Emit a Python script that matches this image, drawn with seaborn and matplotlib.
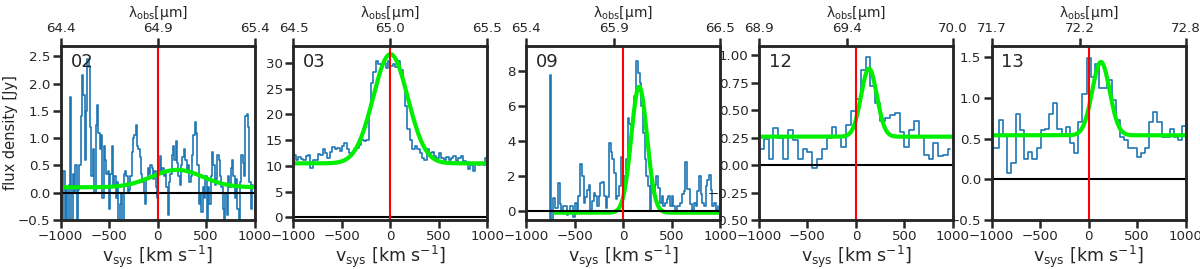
import numpy as np
import seaborn as sns
import matplotlib
matplotlib.use("Agg")
import matplotlib.pyplot as plt

sns.set_style("ticks")
plt.rcParams['font.family'] = ['DejaVu Sans']
plt.rcParams['font.size'] = 10

# panel ids
names = ["02", "03", "09", "12", "13"]

# observed wavelength axis (top): left, middle tick, right  [micron]
lam_lo = [64.4, 64.5, 65.4, 68.9, 71.7]
lam_mid = [64.9, 65.0, 65.9, 69.4, 72.2]
lam_hi = [65.4, 65.5, 66.5, 70.0, 72.8]

# channel grids: first channel centre and channel width [km/s]
v_first = [-993.1, -987.5, -785.0, -975.0, -989.0]
dv = [13.8, 25.0, 17.5, 50.0, 43.0]

# spectra [Jy]
flux_02 = [0.3, -0.6, 0.4, -0.6, 0.1, -0.6, 0.15, 1.75, -0.6, 0.35,
           0.0, 0.5, -0.6, 0.05, 0.5, 1.4, 2.15, 1.8, 0.6, 1.5,
           2.45, 2.3, 1.2, 0.3, 0.8, 0.0, 1.25, 1.6, 1.1, 0.8,
           1.05, -0.1, 0.85, 0.6, 0.35, 0.4, -0.3, 0.35, 0.85, 0.15,
           0.3, -0.1, 0.2, -0.5, -0.2, 0.0, -0.6, 0.35, 0.4, 0.3,
           0.0, 0.05, 0.3, 0.75, 1.0, 1.05, 1.25, 0.85, 0.8, 0.65,
           0.35, 0.2, 0.0, -0.2, 0.25, 0.45, 0.35, 0.5, 0.45, 0.25,
           0.4, 0.1, -0.1,
           0.4, 0.67, 0.35, 0.45, 0.3, 0.4, 0.1, -0.4, 0.2, 0.35,
           0.7, 0.85, 0.6, 0.95, 0.55, 0.3, 0.15, 0.5, 0.65, 0.8,
           0.6, 0.4, 0.5, 0.2, 0.3, 0.7, 1.05, 1.3, 1.1, 0.5,
           -0.2, 0.0, -0.35, 0.1, -0.1, 0.3, -0.5, 0.1, -0.2, 0.3,
           0.75, 0.5, 0.15, 0.25, 0.7, 0.6, 0.3, 0.1, -0.3, -0.5,
           0.0, -0.4, 0.3, 0.1, 0.45, 0.6, 0.3, -0.1, 0.25, -0.3,
           -0.5, 0.2, 0.7, 0.55, 0.3, 1.4, 1.45, 1.2, 0.2, -0.3,
           0.15, 0.1]
flux_03 = [12.2, 11.2, 11.7, 11.4, 11.2, 12.0, 12.2, 9.6, 11.2, 11.1,
           12.4, 12.2, 13.2, 12.5, 11.6, 12.7, 13.7, 13.3, 13.5, 12.9,
           13.8, 14.4, 13.2, 12.5, 12.5, 13.2, 13.5, 14.0, 15.1, 14.8,
           15.1, 20.9, 26.1, 28.3, 30.3, 29.7, 29.5, 30.0, 29.0, 30.3,
           29.4, 29.7, 29.2, 30.3, 28.7, 26.1, 21.6, 17.1, 15.1, 13.3,
           13.8, 13.2, 12.5, 11.6, 11.2, 13.3, 12.5, 12.8, 11.9, 11.6,
           12.5, 11.6, 11.2, 11.7, 11.2, 11.6, 11.9, 10.9, 11.6, 11.9,
           11.0, 10.7, 9.4, 10.2, 9.0, 10.6, 10.1, 10.5, 10.1, 11.6]
flux_09 = [-0.8, -0.8, 7.8, -0.6, 0.78, 0.2, 0.2, 1.6, 0.4, -0.1,
           0.3, 0.3, -0.2, -0.1, 0.3, 0.3, -0.3, 0.5, -0.1, 0.9,
           2.7, 2.0, 0.5, 0.8, 1.2, 1.5, 0.1, 0.6, 1.07, 0.9,
           0.3, 0.9, 1.6, 1.7, 0.9, 0.2, 0.8, 3.9, 3.4, 3.0,
           2.2, 0.7, 0.9, 1.45, 3.1, 1.2, 2.0, 3.0, 5.35, 5.0,
           4.9, 5.5, 6.6, 8.6, 7.9, 7.35, 6.0, 4.5, 3.0, 2.0,
           1.45, 0.1, 1.8, 1.07, 1.5, 2.0, 1.35, 0.5, 0.9, 0.3,
           0.5, 0.7, 0.9, 0.3, 0.9, 0.3, -0.1, 0.3, 0.3, 0.5,
           1.0, 1.15, 2.8, 1.25, 1.25, 0.4, 0.1, 0.5, 0.3, 1.15,
           2.0, 1.0, 0.5, 0.3, 1.45, 1.8, 2.1, 1.2, 0.3, 0.5,
           0.1, 0.3]
flux_12 = [0.15, 0.24, 0.06, 0.34, 0.25, 0.06, 0.32, 0.23, 0.06, 0.15,
           0.12, -0.03, 0.06, 0.15, 0.25, 0.35, 0.26, 0.17, 0.37, 0.49,
           0.60, 0.87, 0.99, 0.72, 0.57, 0.40, 0.43, 0.46, 0.48, 0.30,
           0.17, 0.32, 0.40, 0.26, 0.09, 0.06, 0.20, 0.08, 0.09, 0.15]
flux_13 = [0.38, 0.38, 0.73, 0.54, 0.08, 0.20, 0.80, 0.61, 0.25, 0.33,
           0.25, 0.38, 0.61, 0.62, 0.80, 0.94, 0.62, 0.54, 0.64, 0.44,
           0.32, 0.70, 1.05, 1.49, 1.25, 1.42, 1.12, 1.12, 1.22, 0.97,
           0.73, 0.52, 0.48, 0.38, 0.38, 0.27, 0.32, 0.38, 0.70, 0.82,
           0.70, 0.52, 0.52, 0.62, 0.52, 0.48, 0.65]
fluxes = [flux_02, flux_03, flux_09, flux_12, flux_13]

# gaussian line fits: continuum, amplitude, centre, sigma, start of fit range
fit_cont = [0.10, 10.5, -0.08, 0.26, 0.54]
fit_amp = [0.32, 21.2, 7.2, 0.62, 0.90]
fit_cen = [200.0, 0.0, 165.0, 135.0, 127.0]
fit_sig = [263.0, 178.0, 81.0, 81.0, 90.0]
fit_lo = [-1000, -1000, -707, -1000, -1000]

# y tick spacing per panel
y_step = [0.5, 5, 2, 0.25, 0.5]

fig, axes = plt.subplots(1, 5, figsize=(12, 2.69), dpi=100)
fig.subplots_adjust(left=0.0506, right=0.988, bottom=0.182, top=0.830, wspace=0.2)

for i, ax in enumerate(axes):
    f = np.array(fluxes[i])
    v = v_first[i] + dv[i] * np.arange(len(f))
    sns.lineplot(x=v, y=f, ax=ax, color="#1f77b4", lw=1.2, drawstyle="steps-mid")
    vf = np.linspace(fit_lo[i], 1000, 400)
    model = fit_cont[i] + fit_amp[i] * np.exp(-0.5 * ((vf - fit_cen[i]) / fit_sig[i]) ** 2)
    sns.lineplot(x=vf, y=model, ax=ax, color="#00ee00", lw=3)
    ax.axhline(0, color="black", lw=1.5)
    ax.axvline(0, color="red", lw=1.5)
    ax.set_xlim(-1000, 1000)
    ax.set_ylim(-0.5, 1.1 * f.max())
    ax.set_xticks([-1000, -500, 0, 500, 1000])
    ax.yaxis.set_major_locator(matplotlib.ticker.MultipleLocator(y_step[i]))
    ax.set_xlabel("v$_{\\rm sys}$ [km s$^{-1}$]", labelpad=0, fontsize=12.5)
    ax.text(0.05, 0.905, names[i], transform=ax.transAxes, fontsize=13, va="center")
    ax.tick_params(direction="out", length=6, width=1.8, pad=1.5, labelsize=9.6)
    for s in ax.spines.values():
        s.set_linewidth(1.8)
        s.set_visible(True)

    top = ax.twiny()
    top.set_xlim(lam_lo[i], lam_hi[i])
    top.set_xticks([lam_lo[i], lam_mid[i], lam_hi[i]])
    top.set_xticklabels(["%.1f" % lam_lo[i], "%.1f" % lam_mid[i], "%.1f" % lam_hi[i]])
    top.set_xlabel("λ$_{\\rm obs}$[μm]", labelpad=3.5)
    top.tick_params(direction="out", length=6, width=1.8, pad=1.5, labelsize=9.6)
    for s in top.spines.values():
        s.set_linewidth(1.8)

axes[0].set_ylabel("flux density [Jy]", fontsize=10.5)
axes[0].yaxis.set_label_coords(-0.22, 0.5)

fig.savefig("out.png", dpi=100)
